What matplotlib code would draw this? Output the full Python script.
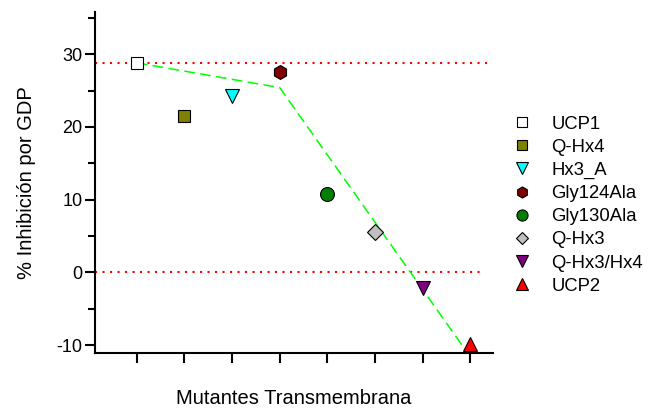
import matplotlib
matplotlib.use("Agg")
import matplotlib.pyplot as plt
from matplotlib.ticker import MultipleLocator, NullFormatter
from matplotlib.lines import Line2D

plt.rcParams['font.family'] = ['Liberation Sans', 'DejaVu Sans']
plt.rcParams['axes.unicode_minus'] = False

names = ["UCP1", "Q-Hx4", "Hx3_A", "Gly124Ala", "Gly130Ala", "Q-Hx3", "Q-Hx3/Hx4", "UCP2"]
xpos = [1, 2, 3, 4, 5, 6, 7, 8]
values = [28.8, 21.5, 24.2, 27.6, 10.8, 5.6, -2.1, -9.8]
markers = ["s", "s", "v", "h", "o", "D", "v", "^"]
colors = ["#ffffff", "#808000", "#00ffff", "#800000", "#008000", "#c0c0c0", "#800080", "#ff0000"]
msizes = [9, 9, 10, 10, 10, 8, 10, 10]

trend_x = [1, 4, 8]
trend_y = [28.8, 25.4, -11.6]

ref_levels = [28.8, 0.0]
ref_ends = [8.45, 8.3]

fig = plt.figure(figsize=(6.48, 4.12), dpi=100)
ax = fig.add_axes([0.1466, 0.1432, 0.6142, 0.8277])

for lvl, xe in zip(ref_levels, ref_ends):
    ax.plot([0.12, xe], [lvl, lvl], color="#ff0000", lw=1.5,
            linestyle=(0, (1, 2.6)), zorder=1)

ax.plot(trend_x, trend_y, color="#00ff00", lw=1.1, linestyle=(0, (7, 3.5)), zorder=2)

handles = []
for x, y, m, c, s, n in zip(xpos, values, markers, colors, msizes, names):
    ax.plot([x], [y], marker=m, color=c, markeredgecolor="black", markeredgewidth=0.8,
            markersize=s, linestyle="none", zorder=3, clip_on=False)
    handles.append(Line2D([], [], marker=m, color=c, markeredgecolor="black",
                          markeredgewidth=0.8, markersize=s * 0.8, linestyle="none", label=n))

ax.set_xlim(0.12, 8.48)
ax.set_ylim(-11.1, 35.8)
ax.set_xticks(xpos)
ax.xaxis.set_major_formatter(NullFormatter())
ax.yaxis.set_major_locator(MultipleLocator(10))
ax.yaxis.set_minor_locator(MultipleLocator(5))

for s in ["top", "right"]:
    ax.spines[s].set_visible(False)
for s in ["left", "bottom"]:
    ax.spines[s].set_linewidth(1.5)
ax.tick_params(axis="both", which="major", direction="out", length=7, width=1.5,
               labelsize=13, pad=2)
ax.tick_params(axis="y", which="minor", direction="out", length=5, width=1.5)

ax.set_ylabel("% Inhibición por GDP", fontsize=14.5, labelpad=15)
ax.set_xlabel("Mutantes Transmembrana", fontsize=14.5, labelpad=17)

fig.legend(handles=handles, loc="upper left", bbox_to_anchor=(0.780, 0.737),
           frameon=False, fontsize=13.3, handlelength=1.0, handletextpad=1.1,
           labelspacing=0.33, borderaxespad=0)

fig.savefig("out.png", dpi=100)
